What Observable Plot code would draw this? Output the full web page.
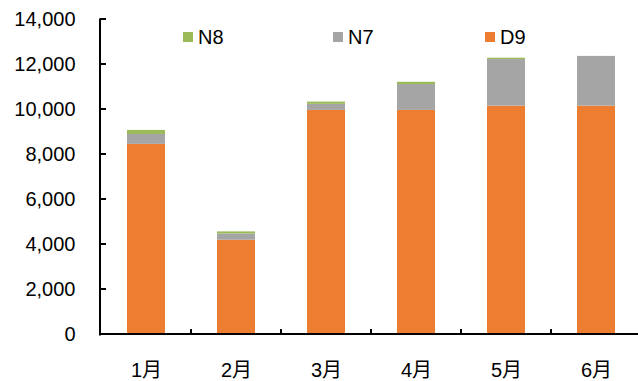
<!DOCTYPE html>
<html>
<head>
<meta charset="utf-8">
<script src="https://cdn.jsdelivr.net/npm/d3@7"></script>
<script src="https://cdn.jsdelivr.net/npm/@observablehq/plot@0.6"></script>
<style>
  body { margin: 0; background: #fff; }
  #wrap {
    position: relative; width: 638px; height: 381px; overflow: hidden;
    font-family: "Liberation Sans", Arial, "Noto Sans CJK SC", sans-serif;
  }
  #wrap svg { display: block; max-width: none !important; }
  .item {
    position: absolute; top: 25.5px; display: flex; align-items: center;
    font-size: 20px; line-height: 23px; color: #000;
  }
  .sw { width: 10px; height: 10px; margin-right: 5px; }
</style>
</head>
<body>
<div id="wrap"></div>
<script>
// Monthly volume by product line
const months = ["1月", "2月", "3月", "4月", "5月", "6月"];
const seriesNames = ["D9", "N7", "N8"];
const d9 = [8450, 4190, 9960, 9960, 10150, 10150];
const n7 = [440, 280, 270, 1150, 2070, 2210];
const n8 = [180, 90, 100, 100, 60, 0];
const seriesColors = ["#ED7D31", "#A5A5A5", "#9BBB59"];
const yTicks = [0, 2000, 4000, 6000, 8000, 10000, 12000, 14000];

// Long-format rows, stacked bottom-up D9, N7, N8
const valuesBySeries = { D9: d9, N7: n7, N8: n8 };
const rows = [];
months.forEach((m, i) => {
  seriesNames.forEach(s => rows.push({ month: m, series: s, value: valuesBySeries[s][i] }));
});

const W = 642, H = 381, ML = 100, MR = 0, MT = 19, MB = 47;
const frameW = W - ML - MR, frameH = H - MT - MB;
const font = "\"Liberation Sans\", Arial, \"Noto Sans CJK SC\", sans-serif";
const axisStroke = { stroke: "#000", strokeWidth: 2 };

const xOptions = { domain: months, paddingInner: 0.58, paddingOuter: 0.29, round: true };
// band step, used to put category separators halfway between bars
const step = Plot.scale({ x: { ...xOptions, type: "band", range: [ML, W - MR] } }).step;

const chart = Plot.plot({
  width: W, height: H,
  marginLeft: ML, marginRight: MR, marginTop: MT, marginBottom: MB,
  style: { fontFamily: font, fontSize: "20px", color: "#000", background: "#fff", maxWidth: "none" },
  x: { ...xOptions, label: null },
  y: { domain: [0, 14000], label: null },
  color: { domain: seriesNames, range: seriesColors },
  marks: [
    Plot.barY(rows, { x: "month", y: "value", fill: "series" }),
    Plot.axisY({ ticks: yTicks, tickSize: 0, tickPadding: 25, tickFormat: d3.format(","), fill: "#000" }),
    Plot.axisX({ tickSize: 0, tickPadding: 28, fill: "#000" }),
    // inward tick marks on the value axis
    Plot.tickY(yTicks, { y: d => d, dy: -0.5, insetRight: frameW - 6, ...axisStroke }),
    // category separators on the baseline
    Plot.tickX(months, { x: d => d, dx: step / 2 - 0.5, insetTop: frameH - 5, ...axisStroke }),
    // axis lines, snapped to whole pixels
    Plot.frame({ anchor: "bottom", dy: -0.5, ...axisStroke }),
    Plot.frame({ anchor: "left", dx: -0.5, ...axisStroke })
  ]
});

const wrap = document.getElementById("wrap");
wrap.appendChild(chart);

// Legend overlaid at the top of the plot area
const legendOrder = ["N8", "N7", "D9"];
const legendLeft = [183, 333, 485];
legendOrder.forEach((name, i) => {
  const item = document.createElement("div");
  item.className = "item";
  item.style.left = legendLeft[i] + "px";
  const sw = document.createElement("span");
  sw.className = "sw";
  sw.style.background = seriesColors[seriesNames.indexOf(name)];
  const label = document.createElement("span");
  label.textContent = name;
  item.appendChild(sw);
  item.appendChild(label);
  wrap.appendChild(item);
});
</script>
</body>
</html>
